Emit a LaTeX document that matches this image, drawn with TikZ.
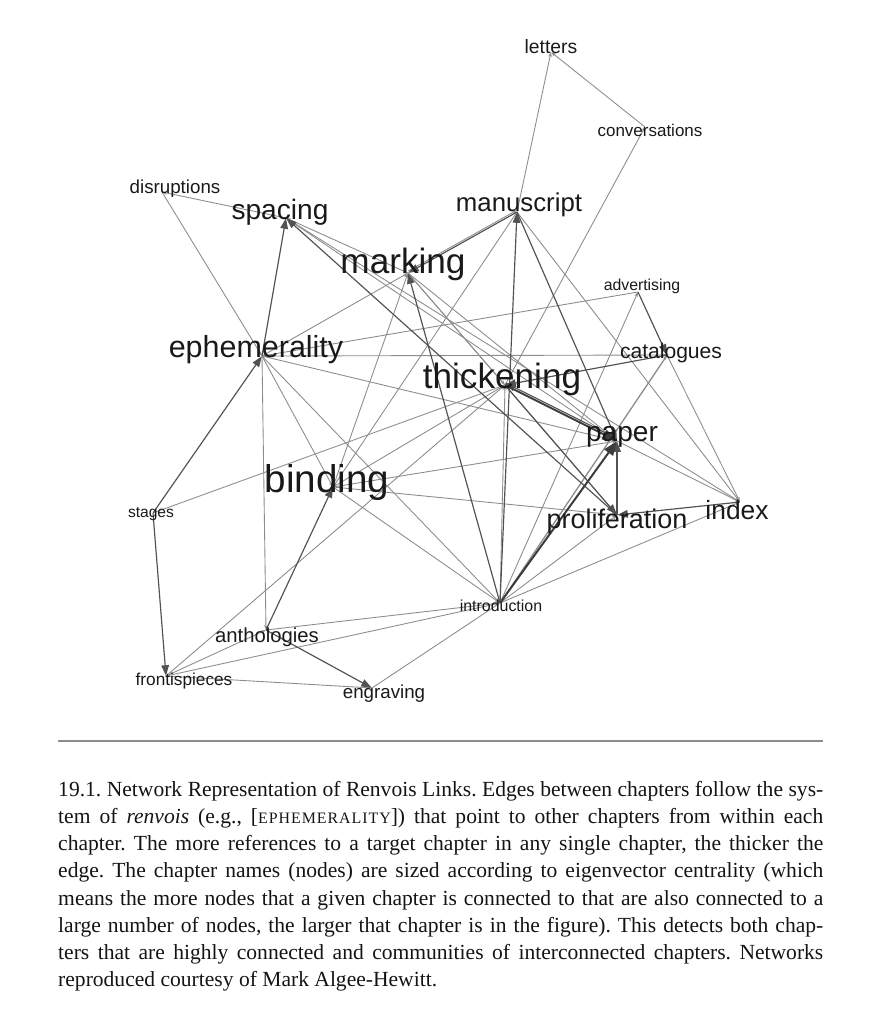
\documentclass[tikz,border=0pt]{standalone}
\usepackage{fontspec}
\setmainfont{Liberation Serif}
\newfontfamily\netfont{Liberation Sans}
\usetikzlibrary{arrows.meta}

\newlength{\capw}
\setlength{\capw}{22.95cm}

\begin{document}
\frenchspacing
\begin{tikzpicture}[
  x=0.03cm, y=-0.03cm,
  >=Stealth,
  hub/.style={inner sep=0pt, minimum size=0pt},
  chap/.style={inner sep=0pt, text=black!90, font=\netfont},
  lite/.style={draw=black!45, line width=0.75pt, -{Stealth[length=4pt,width=3pt]}},
  medium/.style={draw=black!68, line width=1pt, -{Triangle[length=9pt,width=6.5pt]}},
  heavy/.style={draw=black!76, line width=1.7pt, -{Triangle[length=12pt,width=9pt]}}
]
\useasboundingbox (0,0) rectangle (885,1024);

% Chapter hubs (where the edges meet)
\foreach \n/\x/\y in {lett/551/52, conv/645/127, disr/162/192, spac/286/218,
  manu/517/212, mark/408/273, advt/638/292, ephe/262/356, cata/667/355,
  thik/505/385, papr/617/441, bind/333/487, stag/153/513, prol/617/515,
  indx/740/502, intr/500/603, anth/266/630, fron/166/676, engr/372/688}
  \node[hub] (\n) at (\x,\y) {};

% Thin edges
\foreach \a/\b in {manu/lett, conv/lett, thik/conv, spac/disr, disr/ephe,
  ephe/anth, stag/thik, fron/anth, fron/intr, anth/intr, fron/engr,
  engr/intr, fron/thik, bind/intr, ephe/intr, intr/thik, intr/cata,
  intr/advt, intr/prol, intr/indx, manu/bind, manu/indx, advt/ephe,
  ephe/cata, cata/indx, papr/indx, spac/papr, spac/indx, mark/spac,
  ephe/mark, ephe/bind, ephe/papr, bind/mark, bind/papr, bind/prol,
  bind/thik, mark/papr, mark/prol, mark/thik}
  \draw[lite] (\a) -- (\b);

% parallel returns
\draw[lite, transform canvas={shift={(1.2pt,1.2pt)}}] (cata) -- (intr);
\draw[lite, transform canvas={shift={(0pt,1.6pt)}}] (mark) -- (manu);

% Heavier edges
\foreach \a/\b in {ephe/spac, stag/ephe, stag/fron, anth/bind, anth/engr,
  intr/mark, intr/manu, manu/mark, manu/papr, advt/cata, cata/thik,
  thik/prol, prol/papr, prol/spac, indx/prol}
  \draw[medium] (\a) -- (\b);
\draw[medium, transform canvas={shift={(0pt,2pt)}}] (papr) -- (thik);

% Strongest edges
\draw[heavy] (intr) -- (papr);
\draw[heavy] (thik) -- (papr);

% Chapter names, sized by centrality
\foreach \n/\x/\y/\s/\t in {lett/551/47/16.5/letters, conv/650/130/14.5/conversations,
  disr/175/189/16/disruptions, spac/280/212/24/spacing,
  manu/519/205/22/manuscript, mark/403/264/30/marking,
  advt/642/286/13.5/advertising, ephe/256/350/26/ephemerality,
  cata/671/353/18/catalogues, thik/502/379/30/thickening,
  papr/622/437/24/paper, bind/327/482/33/binding,
  stag/151/514/13.3/stages, prol/617/522/23/proliferation,
  indx/737/510/22.5/index, intr/501/606/13.6/introduction,
  anth/267/637/17.3/anthologies, fron/184/681/14.7/frontispieces,
  engr/384/694/16/engraving}
  \node[chap, font=\netfont\fontsize{\s}{\s}\selectfont] (\n-t) at (\x,\y) {\t};

% Caption
\draw[black!45, line width=1.2pt] (58,741) -- (823,741);
\node[anchor=north west, inner sep=0pt, align=left, text=black!92,
  font=\fontsize{18.4}{23.2}\selectfont] (caption) at (58,781) {%
\makebox[\capw][s]{19.1. Network Representation of Renvois Links. Edges between chapters follow the sys-}\\
\makebox[\capw][s]{tem of \emph{renvois} (e.g., [{\fontsize{13.6}{12}\selectfont\addfontfeature{LetterSpace=6}EPHEMERALITY}]) that point to other chapters from within each}\\
\makebox[\capw][s]{chapter. The more references to a target chapter in any single chapter, the thicker the}\\
\makebox[\capw][s]{edge. The chapter names (nodes) are sized according to eigenvector centrality (which}\\
\makebox[\capw][s]{means the more nodes that a given chapter is connected to that are also connected to a}\\
\makebox[\capw][s]{large number of nodes, the larger that chapter is in the figure). This detects both chap-}\\
\makebox[\capw][s]{ters that are highly connected and communities of interconnected chapters. Networks}\\
reproduced courtesy of Mark Algee-Hewitt.};

\end{tikzpicture}
\end{document}
